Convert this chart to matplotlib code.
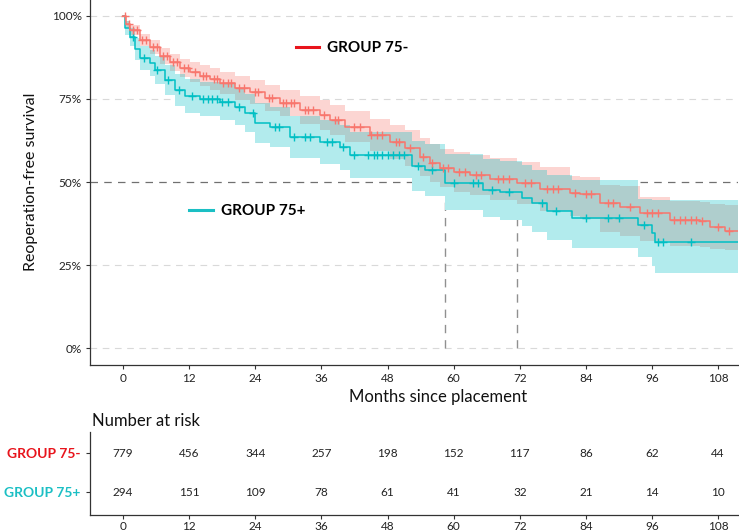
import numpy as np
import matplotlib
matplotlib.use("Agg")
import matplotlib.pyplot as plt
from matplotlib.lines import Line2D

plt.rcParams['font.family'] = ['Lato', 'DejaVu Sans']

RED = '#F8766D'
CYAN = '#00BFC4'
RED_LABEL = '#E8141C'
CYAN_LABEL = '#1BBFC4'

# ---- Kaplan-Meier step estimates (months, survival %) ----
young_t = [0, 0.5, 1.3, 3, 4.9, 6.7, 8.5, 10.3, 12.2, 14, 15.8, 17.6, 20.3, 23, 25.8,
           28.5, 32.1, 35.8, 37.5, 40.3, 44.8, 48.5, 51.2, 53.9, 55.7, 57.5, 60, 63,
           66.6, 71.5, 75.7, 81.1, 83, 86.6, 90.2, 93.8, 99.3, 104.7, 106.6, 109.3]
young_s = [100, 97.5, 95.8, 92.8, 90.7, 88, 86, 84.3, 83.1, 82, 81, 79.8, 78.3, 77.1, 75.3,
           73.8, 71.7, 70.2, 68.7, 66.6, 64.2, 62, 60.2, 57.5, 55.7, 54.2, 53, 52.1,
           50.9, 49.7, 47.9, 46.7, 46.4, 43.7, 42.5, 40.7, 38.6, 38.2, 36.4, 35.2]
young_lo = [100, 96.4, 94.4, 91, 88.6, 85.6, 83.4, 81.5, 80.2, 78.9, 77.8, 76.5, 74.8, 73.4, 71.4,
            69.8, 67.5, 65.8, 64.2, 61.9, 59.3, 56.8, 54.8, 51.9, 50, 48.4, 47.1, 46.1,
            44.7, 43.3, 41.3, 39.8, 38.8, 35, 33.8, 32.2, 30.6, 30.4, 29.8, 29.4]
young_hi = [100, 98.6, 97.2, 94.6, 92.8, 90.4, 88.6, 87.1, 86, 85.1, 84.2, 83.1, 81.8, 80.8, 79.2,
            77.8, 75.9, 74.6, 73.2, 71.3, 69.1, 67.2, 65.6, 63.1, 61.4, 60, 58.9, 58.1,
            57.1, 56.1, 54.5, 51.8, 51.5, 49.2, 48.8, 45.6, 44.2, 44, 43.4, 43.0]
young_cens = [0.4, 1, 1.8, 2.5, 3.5, 4.2, 5.5, 6.2, 7.2, 8, 9, 9.8, 11, 11.8, 13, 14.5, 15,
              16.5, 17, 18.2, 19, 19.5, 21, 22, 24, 24.5, 26.5, 27, 29, 29.5, 30.5, 31, 33,
              33.5, 34.5, 36.5, 38.5, 39, 42, 43, 45, 46, 47, 49.5, 50, 52, 54.5, 56, 58, 59,
              61, 62, 64, 65, 68, 69, 70, 73, 74, 77, 78, 79, 82, 84, 85, 88, 89, 92, 95, 96,
              97, 100, 101, 102, 103, 104, 105, 108, 110]

old_t = [0, 0.3, 1.3, 2.2, 3.1, 4.9, 5.8, 7.6, 9.4, 11.3, 14, 17.6, 20.3, 22.1, 24, 26.7,
         30.3, 35.8, 39.4, 41.2, 52.5, 54.8, 58.4, 65.3, 68.4, 72.4, 74.2, 77, 81.5,
         93.5, 96, 96.5]
old_s = [100, 96.4, 93.7, 90, 87.3, 85.8, 83.7, 80.7, 77.7, 75.9, 75, 74.1, 72.6, 70.8, 67.8, 66.6,
         63.6, 62, 60.5, 58.1, 54.8, 53.6, 49.7, 47.6, 47, 45.2, 43.7, 41.3, 39.2,
         37, 34.6, 31.9]
old_lo = [100, 94.2, 90.9, 86.7, 83.6, 81.8, 79.5, 76.1, 72.8, 70.8, 69.8, 68.8, 67.1, 65.1, 61.8, 60.5,
          57.2, 55.4, 53.7, 51.1, 47.2, 45.8, 41.7, 39.4, 38.7, 36.7, 35, 32.4, 30,
          27.5, 24.8, 22.6]
old_hi = [100, 98.6, 96.5, 93.3, 91, 89.8, 87.9, 85.3, 82.6, 81, 80.2, 79.4, 78.1, 76.5, 73.8, 72.7,
          70, 68.6, 67.3, 65.1, 62.4, 61.4, 58.5, 57.0, 56.4, 55.0, 53.6, 52.0, 50.6,
          44.8, 44.6, 44.6]
old_cens = [1.8, 3.8, 6.2, 8.2, 10.2, 12.5, 14.5, 15.5, 16.2, 17, 18, 19, 21, 23.5, 27.5, 28.3,
            31, 33, 34, 37, 38, 40, 42, 44.5, 45.5, 46, 47, 48, 49, 50, 51, 53.5, 56, 60,
            63.5, 64.5, 67, 70, 76, 78.5, 84, 88, 90, 94.5, 97, 98, 103]

T_END = 111.6
medians = [58.4, 71.5]

risk_times = [0, 12, 24, 36, 48, 60, 72, 84, 96, 108]
risk_young = [779, 456, 344, 257, 198, 152, 117, 86, 62, 44]
risk_old = [294, 151, 109, 78, 61, 41, 32, 21, 14, 10]

W, H = 739, 531
fig = plt.figure(figsize=(W / 100, H / 100), dpi=100)
ax = fig.add_axes([90 / W, 1 - 365 / H, 648 / W, 365 / H])

# grid and median guide lines (hidden under the bands like in the source)
for g in [0, 0.25, 0.75, 1.0]:
    ax.axhline(g, color='#D9D9D9', lw=0.8, ls=(0, (6, 5)), zorder=0)
ax.axhline(0.5, color='#707070', lw=0.9, ls=(0, (6, 5)), zorder=0.5)
for m in medians:
    ax.plot([m, m], [0, 0.5], color='#909090', lw=1.0, ls=(0, (6, 5)), zorder=0.5)


def ext(t, v):
    return np.array(list(t) + [T_END]), np.array(list(v) + [v[-1]]) / 100.0


groups = [(young_t, young_s, young_lo, young_hi, young_cens, RED),
          (old_t, old_s, old_lo, old_hi, old_cens, CYAN)]

for t, s, lo, hi, cens, col in groups:
    tt, lo_ = ext(t, lo)
    _, hi_ = ext(t, hi)
    ax.fill_between(tt, lo_, hi_, step='post', color='white', lw=0, zorder=1)

for t, s, lo, hi, cens, col in groups:
    tt, lo_ = ext(t, lo)
    _, hi_ = ext(t, hi)
    ax.fill_between(tt, lo_, hi_, step='post', color=col, alpha=0.3, lw=0, zorder=2)

for t, s, lo, hi, cens, col in groups[::-1]:
    tt, ss = ext(t, s)
    ax.plot(tt, ss, drawstyle='steps-post', color=col, lw=1.1, zorder=3)
    idx = np.searchsorted(tt, cens, side='right') - 1
    ax.plot(cens, ss[idx], ls='none', marker='+', ms=6, mew=1.0, color=col, zorder=4)

ax.set_xlim(-6, T_END)
ax.set_ylim(-0.051, 1.048)
ax.set_xticks(risk_times)
ax.set_yticks([0, 0.25, 0.5, 0.75, 1.0])
ax.set_yticklabels(['0%', '25%', '50%', '75%', '100%'])
for side in ['top', 'right']:
    ax.spines[side].set_visible(False)
for side in ['left', 'bottom']:
    ax.spines[side].set_color('#333333')
    ax.spines[side].set_linewidth(0.9)
ax.tick_params(axis='both', labelsize=8.5, colors='#333333', length=3, width=0.8,
               labelcolor='#222222', pad=3)

fig.text(31 / W, 1 - 182 / H, 'Reoperation-free survival', rotation=90,
         ha='center', va='center', fontsize=11.5, color='#111111')
fig.text(438 / W, 1 - 397 / H, 'Months since placement', ha='center', va='center',
         fontsize=12, color='#111111')

# legends placed inside the plot
leg1 = ax.legend(handles=[Line2D([], [], color=RED_LABEL, lw=2.2)], labels=['GROUP 75-'],
                 loc='center left', bbox_to_anchor=(296 / W, 1 - 48 / H),
                 bbox_transform=fig.transFigure, frameon=False, borderpad=0, borderaxespad=0,
                 handlelength=1.5, handletextpad=0.5, prop={'weight': 'bold', 'size': 11})
ax.add_artist(leg1)
ax.legend(handles=[Line2D([], [], color=CYAN_LABEL, lw=2.2)], labels=['GROUP 75+'],
          loc='center left', bbox_to_anchor=(189 / W, 1 - 211 / H),
          bbox_transform=fig.transFigure, frameon=False, borderpad=0, borderaxespad=0,
          handlelength=1.6, handletextpad=0.5, prop={'weight': 'bold', 'size': 11})

# ---- risk table ----
rax = fig.add_axes([90 / W, 1 - 515 / H, 648 / W, 83 / H])
rax.set_xlim(-6, T_END)
rax.set_ylim(0.41, 2.54)
for t, n in zip(risk_times, risk_young):
    rax.text(t, 2, str(n), ha='center', va='center', fontsize=8.5, color='#222222')
for t, n in zip(risk_times, risk_old):
    rax.text(t, 1, str(n), ha='center', va='center', fontsize=8.5, color='#222222')
rax.set_xticks(risk_times)
rax.set_yticks([2, 1])
for side in ['top', 'right']:
    rax.spines[side].set_visible(False)
for side in ['left', 'bottom']:
    rax.spines[side].set_color('#333333')
    rax.spines[side].set_linewidth(0.9)
rax.tick_params(axis='x', labelsize=8.5, colors='#333333', length=3, width=0.8,
                labelcolor='#222222', pad=1.5)
rax.tick_params(axis='y', colors='#333333', length=3, width=0.8, pad=4)
rax.set_yticklabels(['GROUP 75-', 'GROUP 75+'], fontsize=10, fontweight='bold')
for lab, c in zip(rax.get_yticklabels(), [RED_LABEL, CYAN_LABEL]):
    lab.set_color(c)
fig.text(92 / W, 1 - 421 / H, 'Number at risk', ha='left', va='center',
         fontsize=12, color='#111111')

fig.savefig('out.png', dpi=100)
